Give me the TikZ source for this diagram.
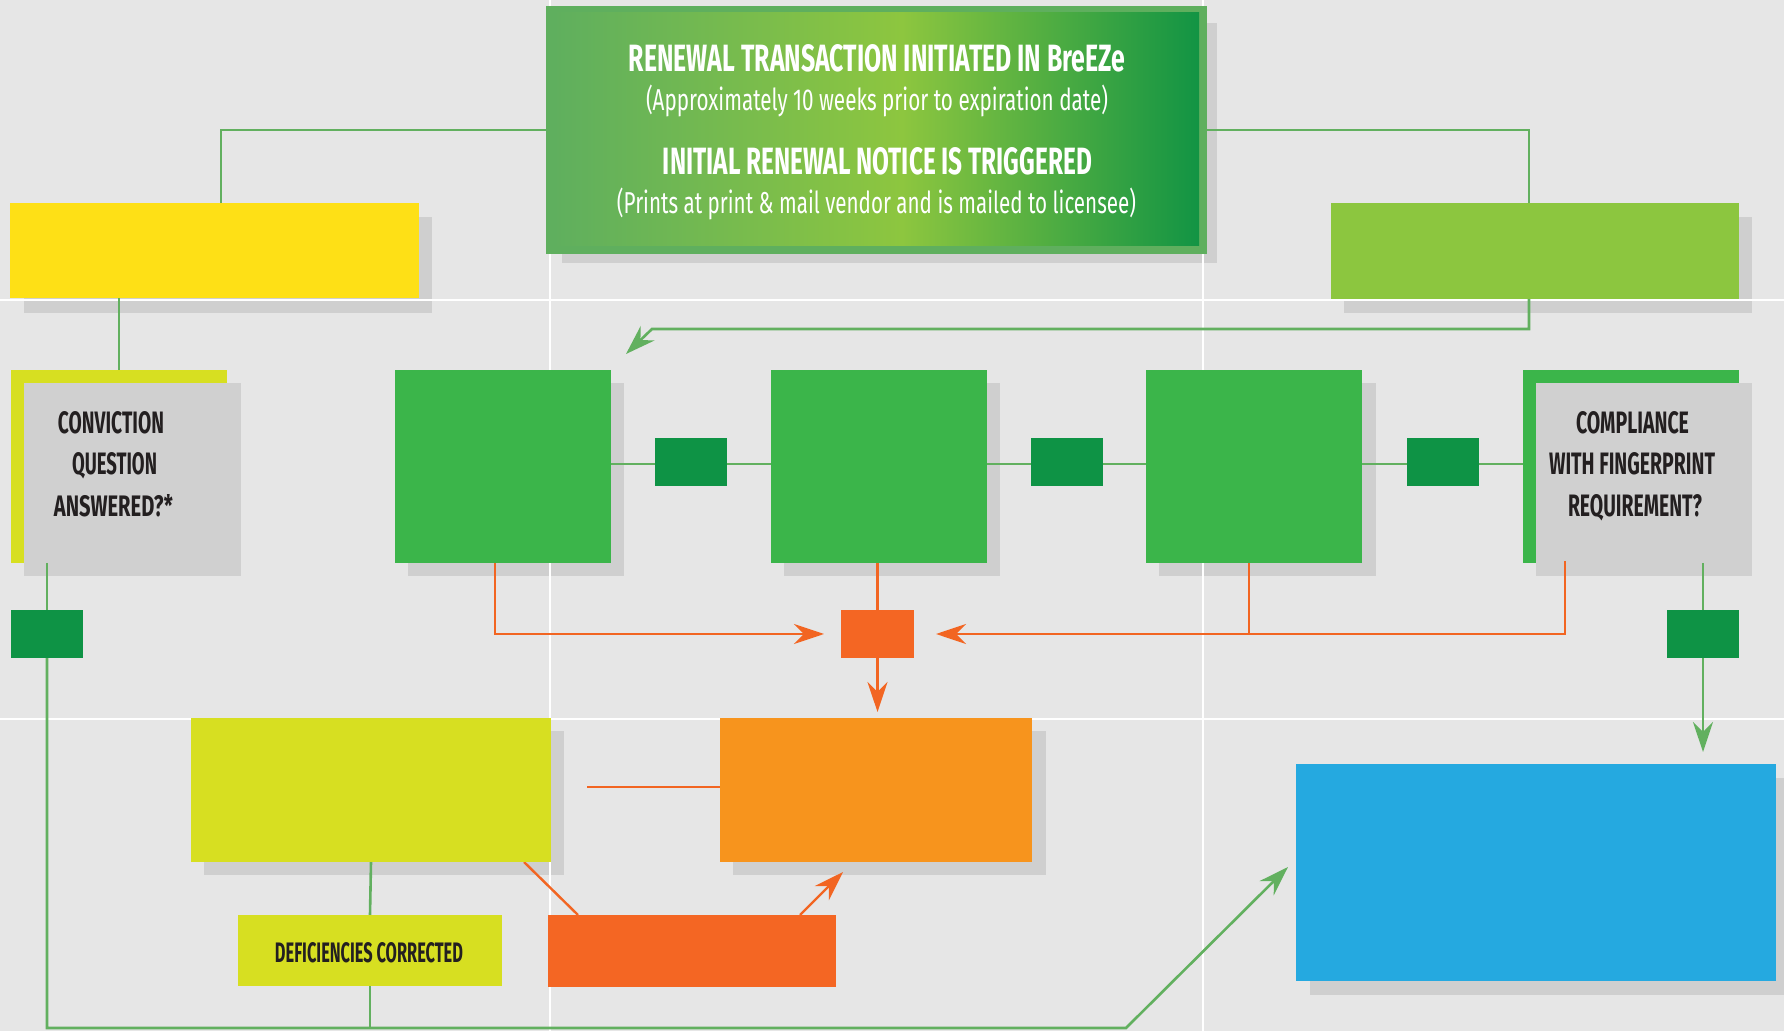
\documentclass[tikz,border=0pt]{standalone}
\usepackage{fontspec}
\setmainfont{Fira Sans}
\usepackage{graphicx}
\usetikzlibrary{arrows.meta,fit}
\definecolor{bgc}{HTML}{E6E6E6}
\definecolor{shadowc}{HTML}{CFCFCF}
\definecolor{lineg}{HTML}{62B05F}
\definecolor{lineo}{HTML}{F26522}
\definecolor{yellowc}{HTML}{FEE016}
\definecolor{limec}{HTML}{8CC63F}
\definecolor{ygreen}{HTML}{D7DF21}
\definecolor{greenc}{HTML}{3BB54A}
\definecolor{dgreen}{HTML}{0E9345}
\definecolor{grayq}{HTML}{D0D0D0}
\definecolor{orangec}{HTML}{F7941D}
\definecolor{redor}{HTML}{F46623}
\definecolor{bluec}{HTML}{25A9E0}
\definecolor{textdark}{HTML}{231F20}
\definecolor{tframe}{HTML}{5FAF5E}
\definecolor{tg1}{HTML}{5FAF5E}
\definecolor{tg2}{HTML}{8DC63F}
\definecolor{tg3}{HTML}{129444}
\pgfdeclarehorizontalshading{topgrad}{100bp}{color(0bp)=(tg1); color(25bp)=(tg1); color(52bp)=(tg2); color(75bp)=(tg3); color(100bp)=(tg3)}
\pgfdeclarelayer{back}
\pgfsetlayers{back,main}
\begin{document}
\begin{tikzpicture}[x=0.5pt,y=-0.5pt,
  rb/.style={rectangle,inner sep=0pt,outer sep=0pt,draw=none},
  gline/.style={draw=lineg,line width=1.3pt},
  oline/.style={draw=lineo,line width=1.2pt},
  tip/.style={-{Stealth[length=15pt,width=10pt,inset=5pt]}},
  tx/.style={inner sep=0pt,outer sep=0pt,text=white},
  qt/.style={inner sep=0pt,outer sep=0pt,text=textdark},
  gridl/.style={draw=white,line width=1pt},
  shd/.style={fill=shadowc}]
\useasboundingbox (0,0) rectangle (1784,1031);
\begin{pgfonlayer}{back}
  \fill[bgc] (0,0) rectangle (1784,1031);
  % shadows
  \fill[shd] (562,23) rectangle (1217,263);
  \fill[shd] (24,217) rectangle (432,313);
  \fill[shd] (1344,217) rectangle (1752,313);
  \fill[shd] (408,383) rectangle (624,576);
  \fill[shd] (784,383) rectangle (1000,576);
  \fill[shd] (1159,383) rectangle (1376,576);
  \fill[shd] (204,731) rectangle (564,875);
  \fill[shd] (733,731) rectangle (1046,875);
  \fill[shd] (1310,778) rectangle (1784,995);
  % grid
  \draw[gridl] (0,300) -- (1784,300);
  \draw[gridl] (0,719) -- (1784,719);
  \draw[gridl] (550,0) -- (550,1031);
  \draw[gridl] (1203,0) -- (1203,1031);
\end{pgfonlayer}

% top box
\node[rb,fill=tframe,fit={(546,6)(1207,254)}] (top) {};
\node[rb,shading=topgrad,fit={(553,13)(1199,246)}] (topin) {};
\node[tx,anchor=base] (t1) at (877,72) {\resizebox{248pt}{13.5pt}{\bfseries RENEWAL TRANSACTION INITIATED IN BreEZe}};
\node[tx] (t2) at (877,101) {\resizebox*{231pt}{16pt}{(Approximately 10 weeks prior to expiration date)}};
\node[tx,anchor=base] (t3) at (877.5,175) {\resizebox{214.5pt}{13.5pt}{\bfseries INITIAL RENEWAL NOTICE IS TRIGGERED}};
\node[tx] (t4) at (876.5,204) {\resizebox*{259.5pt}{16pt}{(Prints at print \& mail vendor and is mailed to licensee)}};

% upper boxes
\node[rb,fill=yellowc,fit={(10,203)(419,298)}] (yel) {};
\node[rb,fill=limec,fit={(1331,203)(1739,299)}] (lime) {};

% conviction
\node[rb,fill=ygreen,fit={(11,370)(227,563)}] (cy) {};
\node[rb,fill=grayq,fit={(24,383)(241,576)}] (cq) {};
\node[qt,anchor=base] (c1) at (111,434) {\resizebox{53pt}{11pt}{\bfseries CONVICTION}};
\node[qt,anchor=base] (c2) at (114.5,475) {\resizebox{42.5pt}{11pt}{\bfseries QUESTION}};
\node[qt,anchor=base] (c3) at (113.5,517) {\resizebox{59.5pt}{11pt}{\bfseries ANSWERED?*}};

% green row
\node[rb,fill=greenc,fit={(395,370)(611,563)}] (g1) {};
\node[rb,fill=greenc,fit={(771,370)(987,563)}] (g2) {};
\node[rb,fill=greenc,fit={(1146,370)(1362,563)}] (g3) {};
\node[rb,fill=dgreen,fit={(655,438)(727,486)}] (s1) {};
\node[rb,fill=dgreen,fit={(1031,438)(1103,486)}] (s2) {};
\node[rb,fill=dgreen,fit={(1407,438)(1479,486)}] (s3) {};

% compliance
\node[rb,fill=greenc,fit={(1523,370)(1739,563)}] (cg) {};
\node[rb,fill=grayq,fit={(1536,383)(1752,576)}] (cc) {};
\node[qt,anchor=base] (p1) at (1632.5,434) {\resizebox{56.5pt}{11pt}{\bfseries COMPLIANCE}};
\node[qt,anchor=base] (p2) at (1632,475) {\resizebox{83pt}{11pt}{\bfseries WITH FINGERPRINT}};
\node[qt,anchor=base] (p3) at (1635,517) {\resizebox{67pt}{11pt}{\bfseries REQUIREMENT?}};

% small boxes
\node[rb,fill=dgreen,fit={(11,610)(83,658)}] (s0) {};
\node[rb,fill=dgreen,fit={(1667,610)(1739,658)}] (s4) {};
\node[rb,fill=redor,fit={(841,610)(914,658)}] (sq) {};

% lower boxes
\node[rb,fill=ygreen,fit={(191,718)(551,862)}] (yg) {};
\node[rb,fill=orangec,fit={(720,718)(1032,862)}] (ob) {};
\node[rb,fill=ygreen,fit={(238,915)(502,986)}] (def) {};
\node[qt,anchor=base] (d1) at (369,962) {\resizebox{94pt}{10pt}{\bfseries DEFICIENCIES CORRECTED}};
\node[rb,fill=redor,fit={(548,915)(836,987)}] (ro) {};
\node[rb,fill=bluec,fit={(1296,764)(1776,981)}] (blue) {};

% free-end coordinates
\coordinate (yin) at (221,203);
\coordinate (lin) at (1529,203);
\coordinate (lout) at (1529,299);
\coordinate (lt1) at (1529,329);
\coordinate (lt2) at (652,329);
\coordinate (ltip) at (626,354);
\coordinate (bl) at (47,1028);
\coordinate (br) at (1126,1028);
\coordinate (btip) at (1288,867);
\coordinate (cstart) at (1565,561);
\coordinate (ostart) at (587,787);

\begin{pgfonlayer}{back}
  \draw[gline] (top.west) -| (yin);
  \draw[gline] (top.east) -| (lin);
  \draw[gline,tip] (lout) -- (lt1) -- (lt2) -- (ltip);
  \draw[gline] (cy.north |- yel.south) -- (cy.north);
  \draw[gline] ([yshift=1.25pt]g1.east) -- ([yshift=1.25pt]cg.west);
  \draw[gline,tip] (s0.south) -- (bl) -- (br) -- (btip);
  \draw[gline] (yg.south) -- (def.north);
  \draw[gline] (def.south) -- (def.south |- bl);
  \draw[gline,tip,shorten >=6pt] (s4.south) -- (s4.south |- blue.north);
  \draw[oline,tip,shorten >=8.5pt] ([xshift=-4pt]g1.south) |- (sq.west);
  \draw[oline] (sq.north |- g2.south) -- (sq.north);
  \draw[oline,tip,shorten >=3pt] (sq.south) -- (sq.south |- ob.north);
  \draw[oline] ([xshift=-2.5pt]g3.south) -- ++(0,71);
  \draw[oline] (ostart) -- (ostart -| ob.west);
  \draw[oline] ([xshift=-13.5pt]yg.south east) -- ([xshift=15pt]ro.north west);
  \draw[oline,tip] ([xshift=-18pt]ro.north east) -- ([xshift=61.5pt,yshift=-5pt]ob.south west);
\end{pgfonlayer}

% connectors drawn over the grey question boxes
\draw[gline] (s0.north |- cy.south) -- (s0.north);
\draw[gline] (s4.north |- cg.south) -- (s4.north);
\draw[oline,tip,shorten >=11pt] (cstart) |- (sq.east);
\end{tikzpicture}
\end{document}
